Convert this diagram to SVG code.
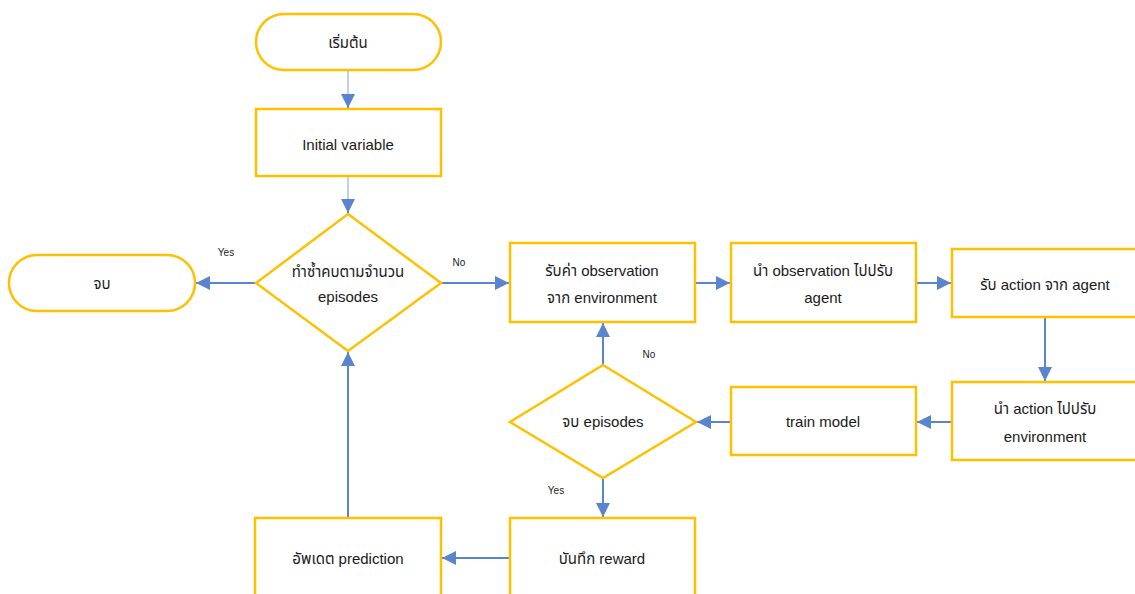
<svg xmlns="http://www.w3.org/2000/svg" width="1135" height="594" viewBox="0 0 1135 594">
  <defs>
    <marker id="arrow" viewBox="0 0 10 10" refX="10" refY="5" markerWidth="7" markerHeight="7" markerUnits="strokeWidth" orient="auto">
      <path d="M0,0 L10,5 L0,10 Z" fill="#5B84CF"/>
    </marker>
    <marker id="arrow-thin" viewBox="0 0 10 10" refX="10" refY="5" markerWidth="11" markerHeight="11" markerUnits="strokeWidth" orient="auto">
      <path d="M0,0 L10,5 L0,10 Z" fill="#5B84CF"/>
    </marker>
    <style>
      .shape { fill: #ffffff; stroke: #FFC000; stroke-width: 2.5; }
      .label { font-family: "Liberation Sans", "Noto Sans Thai", "Noto Sans", sans-serif; font-size: 15px; fill: #1a1a1a; text-anchor: middle; }
      .small { font-family: "Liberation Sans", "Noto Sans", sans-serif; font-size: 10px; fill: #1a1a1a; text-anchor: middle; }
      .edge { fill: none; stroke: #5B84CF; stroke-width: 2; marker-end: url(#arrow); }
      .light { fill: none; stroke: #9DB5E3; stroke-width: 1.3; }
    </style>
  </defs>
  <rect width="1135" height="594" fill="#ffffff"/>

  <g id="connectors">
    <path class="light" d="M348,70 L348,96"/>
    <path class="edge" d="M348,94 L348,108"/>
    <path class="light" d="M348,176 L348,202"/>
    <path class="edge" d="M348,200 L348,213"/>
    <path class="edge" d="M256,283 L196,283"/>
    <path class="edge" d="M441,283 L509,283"/>
    <path class="edge" d="M696,283 L730,283"/>
    <path class="edge" d="M917,283 L951,283"/>
    <path class="edge" d="M1045,317 L1045,381"/>
    <path class="edge" d="M952,422 L917,422"/>
    <path class="edge" d="M731,422 L697,422"/>
    <path class="edge" d="M603,365 L603,323"/>
    <path class="edge" d="M603,478 L603,517"/>
    <path class="edge" d="M510,558 L442,558"/>
    <path class="edge" d="M348,517 L348,352"/>
    <text class="small" x="226" y="256">Yes</text>
    <text class="small" x="459" y="266">No</text>
    <text class="small" x="649" y="358">No</text>
    <text class="small" x="556" y="494">Yes</text>
  </g>

  <g id="start">
    <rect class="shape" x="256" y="14" width="185" height="56" rx="28" ry="28"/>
    <text class="label" x="348" y="48">เริ่มต้น</text>
  </g>

  <g id="init">
    <rect class="shape" x="256" y="109" width="185" height="67"/>
    <text class="label" x="348" y="150">Initial variable</text>
  </g>

  <g id="loop-episodes">
    <polygon class="shape" points="348,214 441,283 348,351 256,283"/>
    <text class="label" x="348" y="277">ทำซ้ำคบตามจำนวน</text>
    <text class="label" x="348" y="302">episodes</text>
  </g>

  <g id="end">
    <rect class="shape" x="9" y="255" width="186" height="56" rx="28" ry="28"/>
    <text class="label" x="102" y="289">จบ</text>
  </g>

  <g id="get-observation">
    <rect class="shape" x="510" y="243" width="185" height="79"/>
    <text class="label" x="602" y="276">รับค่า observation</text>
    <text class="label" x="602" y="303">จาก environment</text>
  </g>

  <g id="observation-to-agent">
    <rect class="shape" x="731" y="243" width="185" height="79"/>
    <text class="label" x="823" y="276">นำ observation ไปปรับ</text>
    <text class="label" x="823" y="303">agent</text>
  </g>

  <g id="get-action">
    <rect class="shape" x="952" y="249" width="200" height="68"/>
    <text class="label" x="1045" y="290">รับ action จาก agent</text>
  </g>

  <g id="action-to-env">
    <rect class="shape" x="952" y="382" width="200" height="78"/>
    <text class="label" x="1045" y="414">นำ action ไปปรับ</text>
    <text class="label" x="1045" y="442">environment</text>
  </g>

  <g id="train-model">
    <rect class="shape" x="731" y="387" width="185" height="68"/>
    <text class="label" x="823" y="427">train model</text>
  </g>

  <g id="episode-done">
    <polygon class="shape" points="603,365 696,422 603,478 510,422"/>
    <text class="label" x="603" y="427">จบ episodes</text>
  </g>

  <g id="save-reward">
    <rect class="shape" x="510" y="518" width="185" height="90"/>
    <text class="label" x="602" y="564">บันทึก reward</text>
  </g>

  <g id="update-prediction">
    <rect class="shape" x="255" y="518" width="186" height="90"/>
    <text class="label" x="348" y="564">อัพเดต prediction</text>
  </g>
</svg>
